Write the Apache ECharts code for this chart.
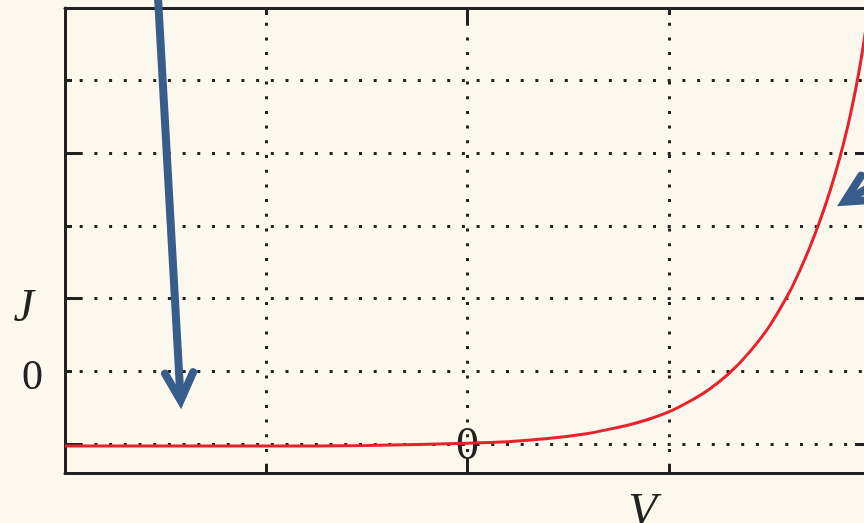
<!DOCTYPE html>
<html>
<head>
<meta charset="UTF-8">
<title>J-V curve</title>
<script src="https://cdn.jsdelivr.net/npm/echarts@6/dist/echarts.min.js"></script>
<style>
  html, body { margin: 0; padding: 0; background: #fcf8ee; }
  #chart { width: 864px; height: 523px; }
</style>
</head>
<body>
<div id="chart"></div>
<script>
// curve, in grid units (one unit per dotted line)
const voltage = [-2.0, -1.0, -0.5, 0, 0.2, 0.4, 0.6, 0.7, 0.8, 0.9, 1.0, 1.1, 1.2, 1.3, 1.4, 1.5, 1.6, 1.65, 1.7, 1.75, 1.8, 1.85, 1.9, 1.95, 2.0];
const current = [-1.03, -1.03, -1.02, -0.99, -0.97, -0.925, -0.855, -0.80, -0.74, -0.66, -0.56, -0.42, -0.25, -0.03, 0.26, 0.62, 1.09, 1.38, 1.70, 2.06, 2.47, 2.94, 3.50, 4.20, 5.10];

// the two blue arrows: start and tip, same units
const arrowFrom = [[-1.541, 5.3], [2.25, 2.95]];
const arrowTo = [[-1.423, -0.523], [1.836, 2.27]];

// tick labels
const xLabelValues = [0];
const xLabelTexts = ['0'];
const yLabelValues = [0, 1];
const yLabelTexts = ['0', '{it|J}'];
const yGridValues = [-1, 0, 1, 2, 3, 4, 5];
const yLongTicks = [-1, 1, 3];
const xLongTicks = [0];

const ink = '#222222';
const blue = '#375d8c';
const serif = "'Liberation Serif', 'DejaVu Serif', serif";
const dotted = { color: ink, width: 3, type: [3, 11.7] };
const tickLine = { color: ink, width: 3 };

const chart = echarts.init(document.getElementById('chart'));

function drawArrow(params, api) {
    const a = api.coord([api.value(0), api.value(1)]);
    const b = api.coord([api.value(2), api.value(3)]);
    const dx = b[0] - a[0], dy = b[1] - a[1];
    const len = Math.hypot(dx, dy);
    const ux = dx / len, uy = dy / len;
    const w = 8, wing = 31, half = 27 * Math.PI / 180;
    // pull the corner back so the mitred tip lands on b
    const back = w / 2 / Math.sin(half);
    const vx = b[0] - ux * back, vy = b[1] - uy * back;
    const wingPt = s => {
        const c = Math.cos(s * half), sn = Math.sin(s * half);
        const rx = -ux * c + uy * sn, ry = -ux * sn - uy * c;
        return [vx + rx * wing, vy + ry * wing];
    };
    return {
        type: 'group',
        children: [
            { type: 'line', shape: { x1: a[0], y1: a[1], x2: vx, y2: vy },
              style: { stroke: blue, lineWidth: w, lineCap: 'butt' } },
            { type: 'polyline', shape: { points: [wingPt(1), [vx, vy], wingPt(-1)] },
              style: { stroke: blue, lineWidth: w, fill: 'none', lineCap: 'round', lineJoin: 'miter' } }
        ]
    };
}

const option = {
    backgroundColor: '#fcf8ee',
    animation: false,
    grid: { left: 65, top: 8, width: 805, height: 465, outerBoundsMode: 'none' },
    xAxis: [
        {
            type: 'value', position: 'bottom', min: -2, max: 2, interval: 1,
            axisLine: { show: true, onZero: false, lineStyle: tickLine },
            axisTick: { show: true, inside: true, length: 7, lineStyle: tickLine },
            axisLabel: {
                show: true, inside: true, customValues: xLabelValues,
                formatter: v => xLabelTexts[xLabelValues.indexOf(v)],
                fontFamily: serif, fontSize: 46, color: ink, margin: 3
            },
            splitLine: { show: true, lineStyle: dotted },
            name: 'V', nameLocation: 'middle', nameGap: 16,
            nameTextStyle: { fontFamily: serif, fontStyle: 'italic', fontSize: 47, color: ink, padding: [0, 0, 0, 350] }
        },
        {
            type: 'value', position: 'bottom', min: -2, max: 2,
            axisLine: { show: false, onZero: false },
            axisTick: { show: true, inside: true, length: 15, customValues: xLongTicks, lineStyle: tickLine },
            axisLabel: { show: false }, splitLine: { show: false }
        },
        {
            type: 'value', position: 'top', min: -2, max: 2, interval: 1,
            axisLine: { show: true, onZero: false, lineStyle: tickLine },
            axisTick: { show: true, inside: true, length: 7, lineStyle: tickLine },
            axisLabel: { show: false }, splitLine: { show: false }
        },
        {
            type: 'value', position: 'top', min: -2, max: 2,
            axisLine: { show: false, onZero: false },
            axisTick: { show: true, inside: true, length: 15, customValues: xLongTicks, lineStyle: tickLine },
            axisLabel: { show: false }, splitLine: { show: false }
        }
    ],
    yAxis: [
        {
            type: 'value', position: 'left', min: -1.4, max: 5,
            axisLine: { show: true, onZero: false, lineStyle: tickLine },
            axisTick: { show: true, inside: true, length: 7, customValues: yGridValues, lineStyle: tickLine },
            axisLabel: {
                show: true, customValues: yLabelValues,
                formatter: v => yLabelTexts[yLabelValues.indexOf(v)],
                fontFamily: serif, fontSize: 42, color: ink, margin: 22, padding: [14, 0, 0, 0],
                rich: { it: { fontFamily: serif, fontStyle: 'italic', fontSize: 46, color: ink, padding: [6, 9, 0, 0] } }
            },
            splitLine: { show: true, lineStyle: dotted }
        },
        {
            type: 'value', position: 'left', min: -1.4, max: 5,
            axisLine: { show: false, onZero: false },
            axisTick: { show: true, inside: true, length: 15, customValues: yLongTicks, lineStyle: tickLine },
            axisLabel: { show: false }, splitLine: { show: false }
        },
        {
            type: 'value', position: 'right', min: -1.4, max: 5,
            axisLine: { show: true, onZero: false, lineStyle: tickLine },
            axisTick: { show: true, inside: true, length: 15, customValues: yLongTicks, lineStyle: tickLine },
            axisLabel: { show: false }, splitLine: { show: false }
        }
    ],
    series: [
        {
            type: 'line', xAxisIndex: 0, yAxisIndex: 0,
            data: voltage.map((v, i) => [v, current[i]]),
            smooth: 0.3, showSymbol: false, clip: true,
            lineStyle: { color: '#e8212b', width: 3 }
        },
        {
            type: 'custom', xAxisIndex: 0, yAxisIndex: 0, clip: false, silent: true,
            data: arrowFrom.map((f, i) => [f[0], f[1], arrowTo[i][0], arrowTo[i][1]]),
            renderItem: drawArrow
        }
    ]
};

chart.setOption(option);
</script>
</body>
</html>
